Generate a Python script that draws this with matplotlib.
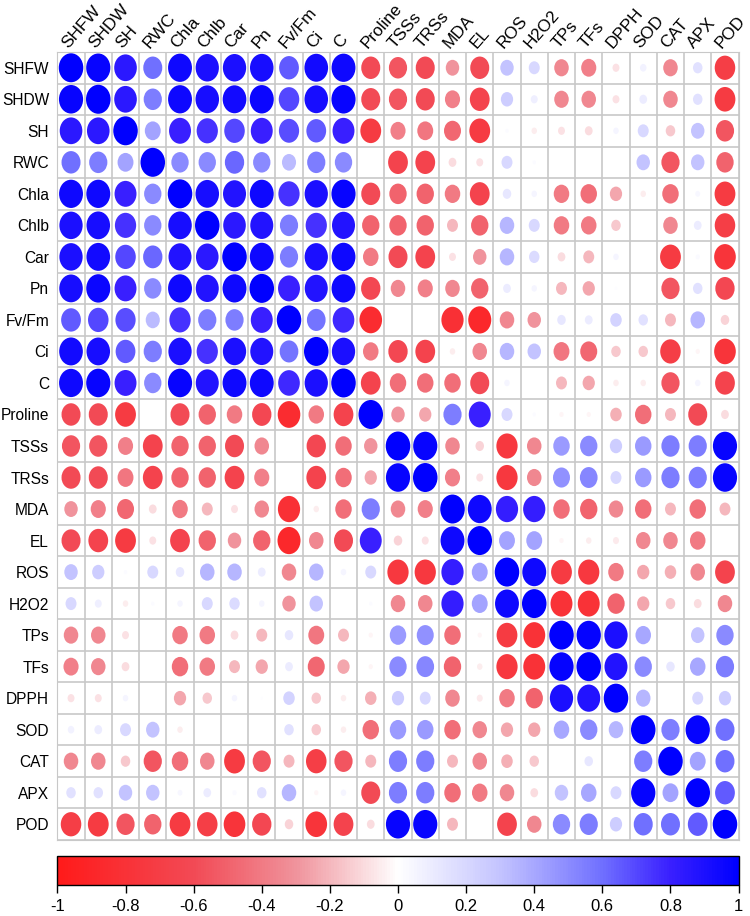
import numpy as np
import matplotlib
matplotlib.use('Agg')
import matplotlib.pyplot as plt
from matplotlib.colors import LinearSegmentedColormap, Normalize
from matplotlib.patches import Ellipse
from matplotlib.cm import ScalarMappable

plt.rcParams['font.family'] = ['Liberation Sans', 'DejaVu Sans']

labels = ['SHFW', 'SHDW', 'SH', 'RWC', 'Chla', 'Chlb', 'Car', 'Pn', 'Fv/Fm', 'Ci', 'C',
          'Proline', 'TSSs', 'TRSs', 'MDA', 'EL', 'ROS', 'H2O2', 'TPs', 'TFs', 'DPPH',
          'SOD', 'CAT', 'APX', 'POD']

# lower triangle of the correlation matrix, None = not significant (blank cell)
lower = [
    [],
    [0.97],
    [0.85, 0.85],
    [0.6, 0.55, 0.42],
    [0.95, 0.95, 0.8, 0.5],
    [0.9, 0.92, 0.75, 0.5, 0.92],
    [0.9, 0.93, 0.7, 0.62, 0.88, 0.85],
    [0.92, 0.96, 0.8, 0.5, 0.95, 0.88, 0.95],
    [0.65, 0.7, 0.68, 0.33, 0.75, 0.55, 0.55, 0.8],
    [0.93, 0.92, 0.65, 0.55, 0.9, 0.75, 0.9, 0.88, 0.58],
    [0.95, 0.97, 0.8, 0.5, 0.97, 0.88, 0.95, 0.95, 0.78, 0.9],
    [-0.6, -0.6, -0.72, None, -0.6, -0.5, -0.4, -0.62, -0.85, -0.4, -0.65],
    [-0.55, -0.55, -0.38, -0.65, -0.5, -0.5, -0.6, -0.35, None, -0.62, -0.45, -0.3],
    [-0.6, -0.6, -0.42, -0.65, -0.5, -0.5, -0.65, -0.38, None, -0.65, -0.45, -0.25, 0.97],
    [-0.3, -0.38, -0.48, -0.1, -0.4, -0.2, -0.08, -0.35, -0.82, -0.05, -0.45, 0.55, -0.35, -0.38],
    [-0.6, -0.65, -0.72, -0.08, -0.65, -0.5, -0.3, -0.5, -0.88, -0.35, -0.6, 0.8, -0.12, -0.08, 0.95],
    [0.3, 0.25, 0.02, 0.2, 0.12, 0.35, 0.35, 0.1, -0.35, 0.35, 0.05, 0.2, -0.75, -0.75, 0.82, 0.42],
    [0.2, 0.08, -0.05, 0.02, 0.05, 0.2, 0.18, 0.05, -0.3, 0.3, None, 0.02, -0.35, -0.35, 0.82, 0.42, 0.95],
    [-0.35, -0.35, -0.08, None, -0.4, -0.4, -0.1, -0.2, 0.12, -0.42, -0.2, -0.03, 0.45, 0.48, -0.45, -0.03,
     -0.72, -0.8],
    [-0.38, -0.35, -0.1, None, -0.45, -0.4, -0.2, -0.25, 0.1, -0.48, -0.25, -0.03, 0.5, 0.52, -0.5, -0.05,
     -0.75, -0.8, 0.98],
    [-0.08, -0.08, 0.05, None, -0.25, -0.15, 0.05, 0.01, 0.22, -0.15, -0.05, -0.22, 0.25, 0.2, -0.35, -0.06,
     -0.4, -0.5, 0.9, 0.88],
    [0.07, 0.1, 0.2, 0.3, -0.05, None, None, None, 0.15, -0.15, -0.05, -0.45, 0.45, 0.45, -0.45, -0.35,
     -0.25, -0.25, 0.4, 0.5, 0.35],
    [-0.35, -0.35, -0.15, -0.55, -0.45, -0.35, -0.72, -0.55, -0.2, -0.7, -0.55, -0.2, 0.55, 0.55, -0.2, -0.35,
     -0.22, -0.15, None, 0.12, None, 0.55],
    [0.15, 0.15, 0.3, 0.3, 0.04, 0.1, 0.03, 0.15, 0.35, -0.03, 0.05, -0.6, 0.55, 0.55, -0.45, -0.4,
     -0.35, -0.1, 0.3, 0.4, 0.2, 0.98, 0.42],
    [-0.7, -0.72, -0.55, -0.5, -0.72, -0.7, -0.78, -0.62, -0.12, -0.78, -0.65, -0.1, 0.97, 0.97, -0.2, None,
     -0.65, -0.35, 0.5, 0.55, 0.25, 0.6, 0.6, 0.65],
]

cbar_ticks = [-1, -0.8, -0.6, -0.4, -0.2, 0, 0.2, 0.4, 0.6, 0.8, 1]

n = len(labels)
corr = np.eye(n)
for i, row in enumerate(lower):
    for j, v in enumerate(row):
        val = np.nan if v is None else v
        corr[i, j] = val
        corr[j, i] = val

cmap = LinearSegmentedColormap.from_list('rwb', [
    (0.0, '#FF1A1A'), (0.2, '#F24A55'), (0.35, '#F0939C'), (0.5, '#FFFFFF'),
    (0.65, '#C4C4FF'), (0.8, '#7070FF'), (0.9, '#3A20FF'), (1.0, '#0000FF')])
norm = Normalize(-1, 1)

W, H = 750, 916
fig = plt.figure(figsize=(W / 100, H / 100), dpi=100)
left, right, top, bottom = 57.4, 738.6, 52, 840
ax = fig.add_axes([left / W, 1 - bottom / H, (right - left) / W, (bottom - top) / H])
ax.set_xlim(-0.5, n - 0.5)
ax.set_ylim(n - 0.5, -0.5)

for k in range(n + 1):
    ax.axhline(k - 0.5, color='#C8C8C8', lw=1.2, zorder=1)
    ax.axvline(k - 0.5, color='#C8C8C8', lw=1.2, zorder=1)

for i in range(n):
    for j in range(n):
        r = corr[i, j]
        if np.isnan(r):
            continue
        s = np.sqrt(abs(r))
        e = Ellipse((j, i), width=0.9 * s, height=0.92 * s,
                    facecolor=cmap(norm(r)), edgecolor='none', zorder=2)
        ax.add_patch(e)

ax.set_xticks([])
ax.set_yticks(range(n))
ax.set_yticklabels(labels, fontsize=11.2)
ax.tick_params(axis='y', length=0, pad=6)
for s in ax.spines.values():
    s.set_color('#C8C8C8')

for j, lab in enumerate(labels):
    ax.text(j - 0.12, -0.6, lab, rotation=49, ha='left', va='baseline',
            rotation_mode='anchor', fontsize=12.3, clip_on=False)

cax = fig.add_axes([left / W, 1 - 885 / H, (right - left) / W, 29 / H])
cb = fig.colorbar(ScalarMappable(norm=norm, cmap=cmap), cax=cax,
                  orientation='horizontal', ticks=cbar_ticks)
cb.set_ticklabels(['%g' % t for t in cbar_ticks])
cb.outline.set_linewidth(1)
cax.tick_params(length=6, width=1, labelsize=12, pad=4)

fig.savefig('out.png', dpi=100)
